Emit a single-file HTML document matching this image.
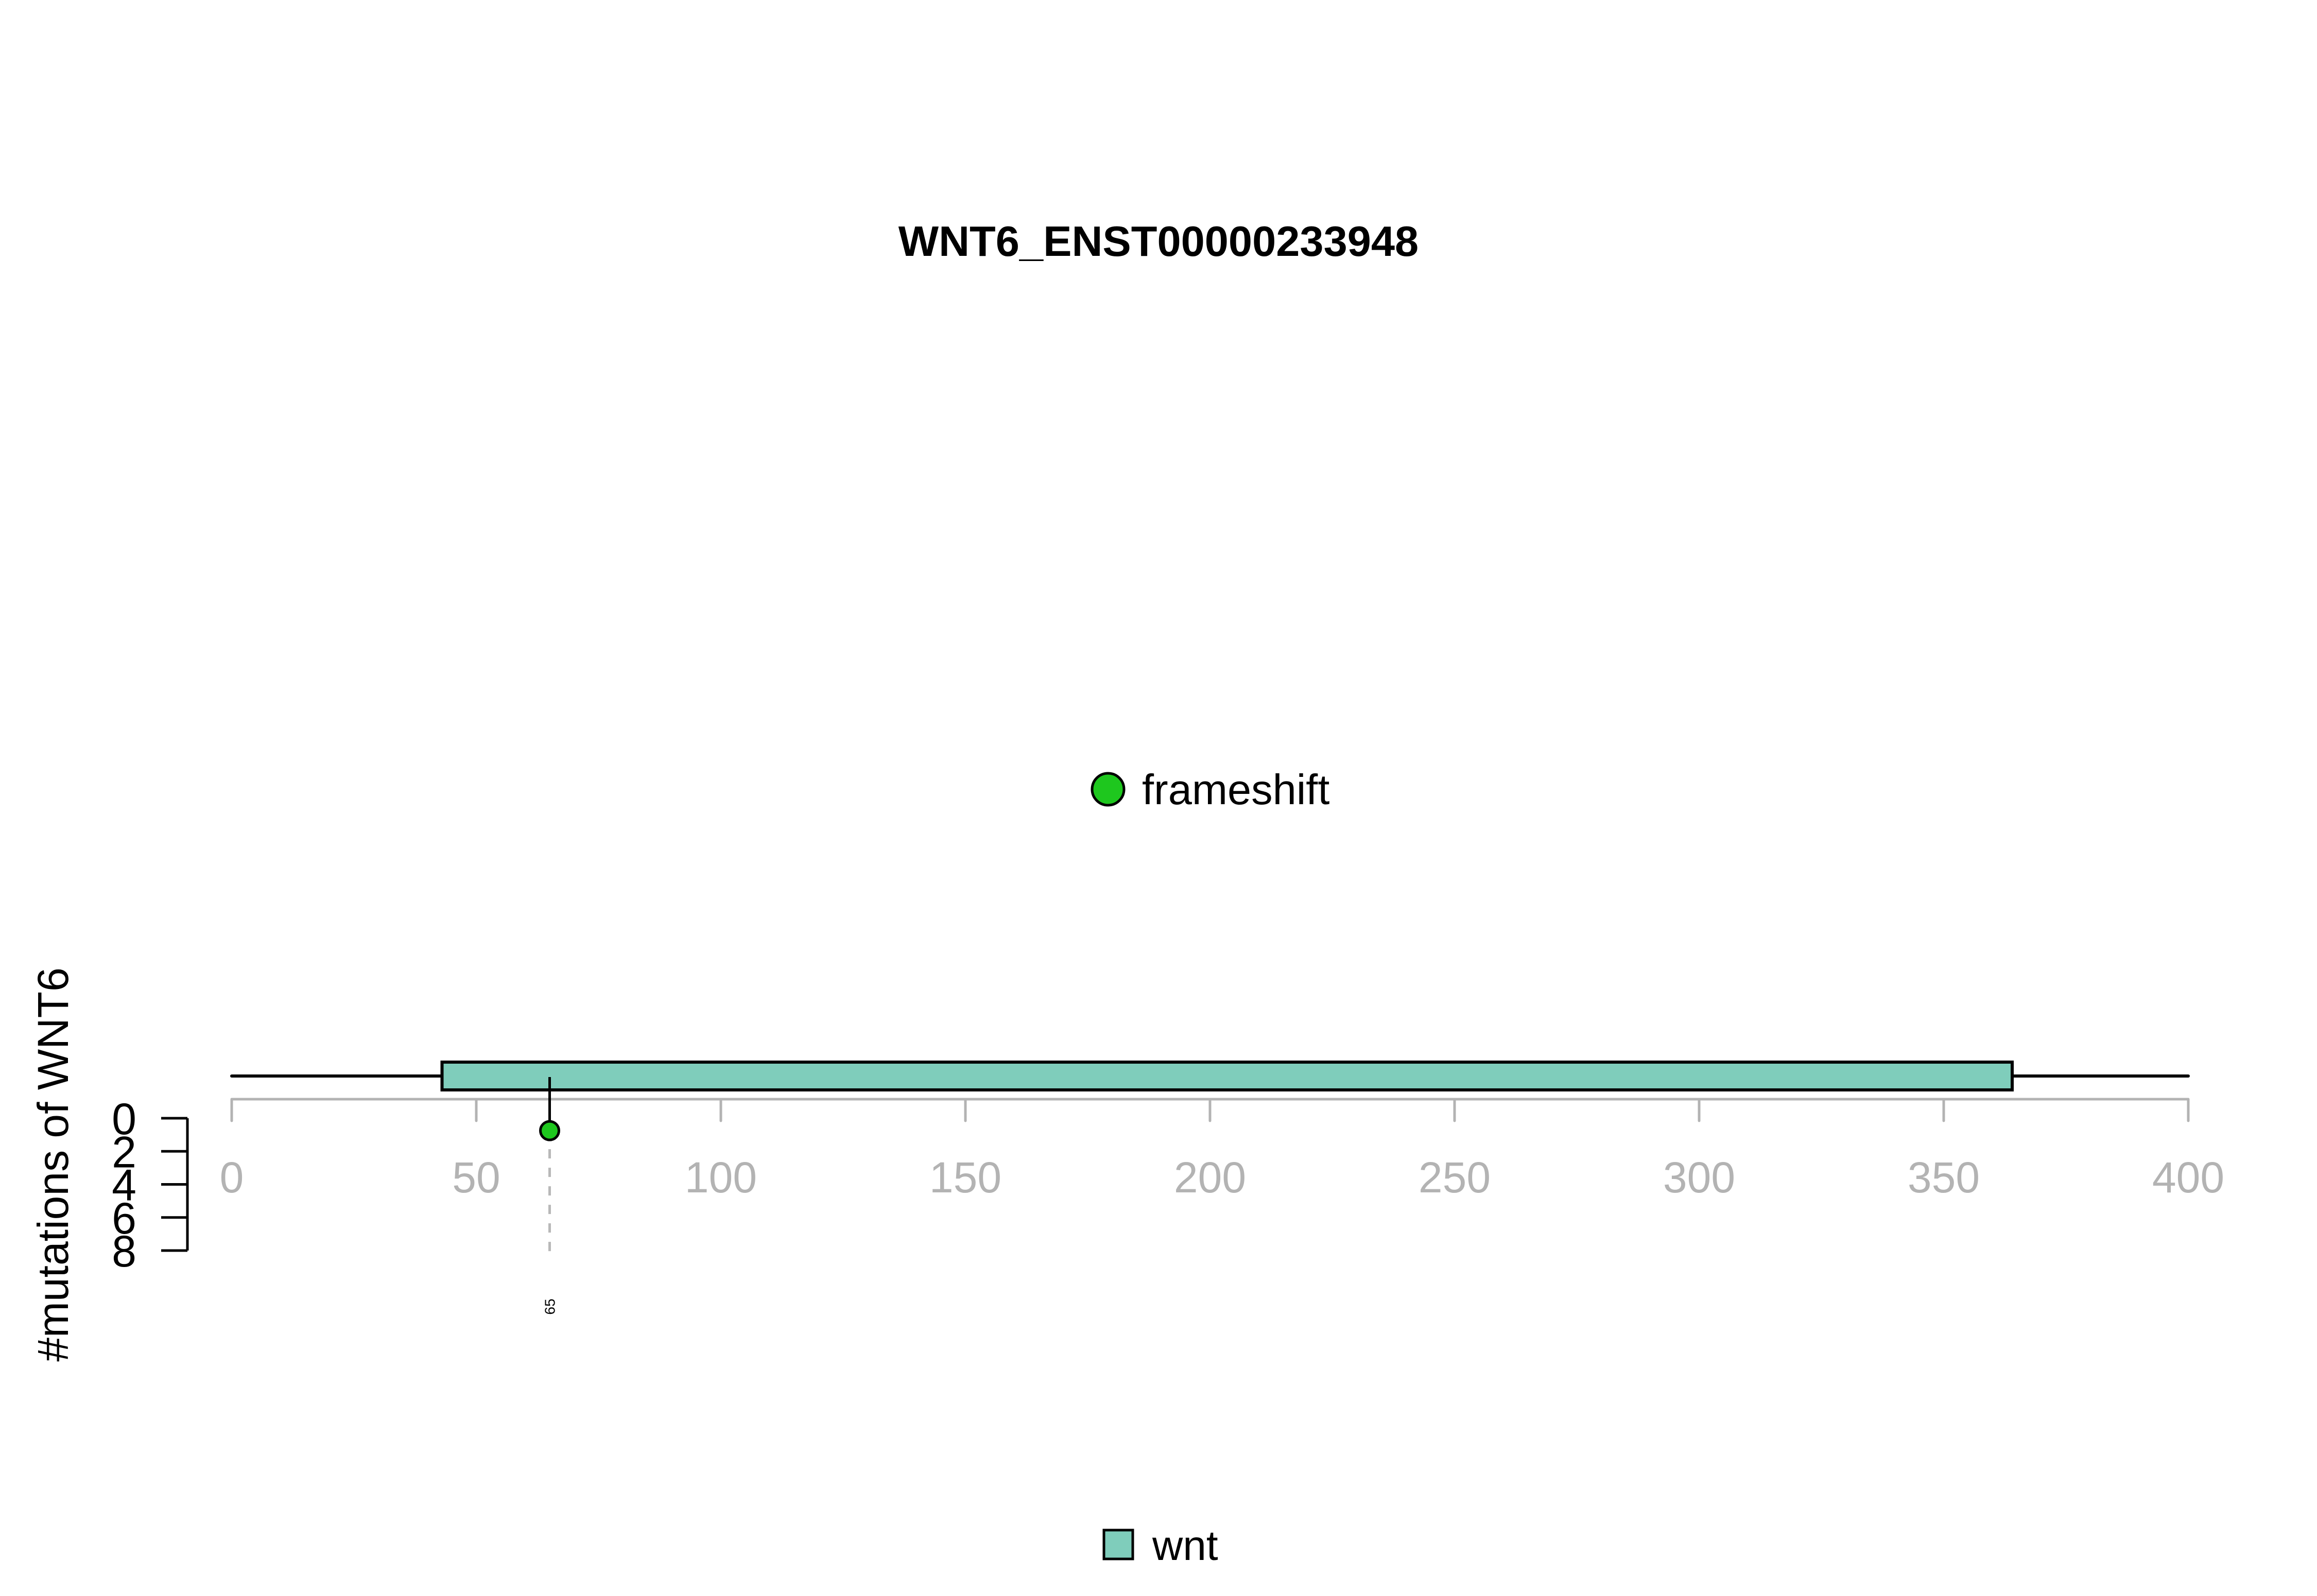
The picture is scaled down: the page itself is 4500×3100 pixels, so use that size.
<!DOCTYPE html>
<html><head><meta charset="utf-8"><style>
html,body{margin:0;padding:0;background:#fff}
svg{display:block}
text{font-family:"Liberation Sans",Arial,sans-serif}
</style></head><body>
<svg id="chart" width="4500" height="3100" viewBox="0 0 4500 3100" xmlns="http://www.w3.org/2000/svg">
<rect x="0" y="0" width="4500" height="3100" fill="#fff"/>
<text x="2250" y="497" text-anchor="middle" font-size="83" font-weight="bold">WNT6_ENST00000233948</text>
<g>
<circle cx="2152" cy="1533" r="31" fill="#1ec71e" stroke="#000" stroke-width="5"/>
<text x="2218" y="1562" font-size="83">frameshift</text>
</g>
<text transform="translate(132,2262) rotate(-90)" text-anchor="middle" font-size="84">#mutations of WNT6</text>
<g id="xaxis"></g>
<g id="yaxis"></g>
<g id="protein"></g>
<g id="muts"></g>
<g>
<rect x="2144" y="2972" width="56" height="56" fill="#7fcdbb" stroke="#000" stroke-width="5"/>
<text x="2238" y="3030" font-size="82">wnt</text>
</g>
</svg>
<script>
const xTicks = [0, 50, 100, 150, 200, 250, 300, 350, 400];
const yTicks = [0, 2, 4, 6, 8];
const proteinLength = 400;
const domainNames = ["wnt"];
const domainStarts = [43];
const domainEnds = [364];
const mutPositions = [65];
const mutCounts = [1];
const mutLabels = ["65"];

const NS = "http://www.w3.org/2000/svg";
const X0 = 450, X1 = 4250;
const sx = v => X0 + (v / 400) * (X1 - X0);
const Y0 = 2172, Y1 = 2429;
const sy = v => Y0 + (v / 8) * (Y1 - Y0);
function mk(tag, attrs, parent) {
  const el = document.createElementNS(NS, tag);
  for (const k in attrs) el.setAttribute(k, attrs[k]);
  parent.appendChild(el);
  return el;
}
const AX = 2135;
const xa = document.getElementById('xaxis');
let l = mk('line', {x1: sx(0), x2: sx(400), y1: AX, y2: AX, stroke: '#b3b3b3', 'stroke-width': 5}, xa);


xTicks.forEach(t => {
  const tk = mk('line', {x1: sx(t), x2: sx(t), y1: AX, y2: AX + 42, stroke: '#b3b3b3', 'stroke-width': 5, 'stroke-linecap': 'round'}, xa);
  
  
  const tx = mk('text', {x: sx(t), y: 2316, 'text-anchor': 'middle', 'font-size': 84, fill: '#b3b3b3'}, xa);
  tx.textContent = t;
  
  
});
const ya = document.getElementById('yaxis');
l = mk('line', {x1: 364, x2: 364, y1: sy(0), y2: sy(8), stroke: '#000', 'stroke-width': 5}, ya);


yTicks.forEach(t => {
  const tk = mk('line', {x1: 313, x2: 364, y1: sy(t), y2: sy(t), stroke: '#000', 'stroke-width': 5}, ya);
  
  
  const tx = mk('text', {x: 241, y: sy(t) + 31, 'text-anchor': 'middle', 'font-size': 86, fill: '#000'}, ya);
  tx.textContent = t;
  
  
});
const pr = document.getElementById('protein');
l = mk('line', {x1: sx(0), x2: sx(proteinLength), y1: 2090, y2: 2090, stroke: '#000', 'stroke-width': 6, 'stroke-linecap': 'round'}, pr);


domainNames.forEach((n, i) => {
  const r = mk('rect', {x: sx(domainStarts[i]), y: 2063, width: sx(domainEnds[i]) - sx(domainStarts[i]), height: 54, fill: '#7fcdbb', stroke: '#000', 'stroke-width': 6}, pr);
  
  
});
const mg = document.getElementById('muts');
mutPositions.forEach((p, i) => {
  const x = sx(p), y = sy(mutCounts[i]) - 8;
  const d = mk('line', {x1: x, x2: x, y1: y, y2: 2447, stroke: '#b8b8b8', 'stroke-width': 5, 'stroke-dasharray': '18,18'}, mg);
  
  
  const s = mk('line', {x1: x, x2: x, y1: 2092, y2: y, stroke: '#000', 'stroke-width': 5}, mg);
  
  
  const c = mk('circle', {cx: x, cy: y, r: 18, fill: '#1ec71e', stroke: '#000', 'stroke-width': 5}, mg);
  
  
  const t = mk('text', {transform: 'translate(' + (x + 10) + ',2538) rotate(-90)', 'text-anchor': 'middle', 'font-size': 28}, mg);
  t.textContent = mutLabels[i];
  
  
});
</script>
</body></html>
